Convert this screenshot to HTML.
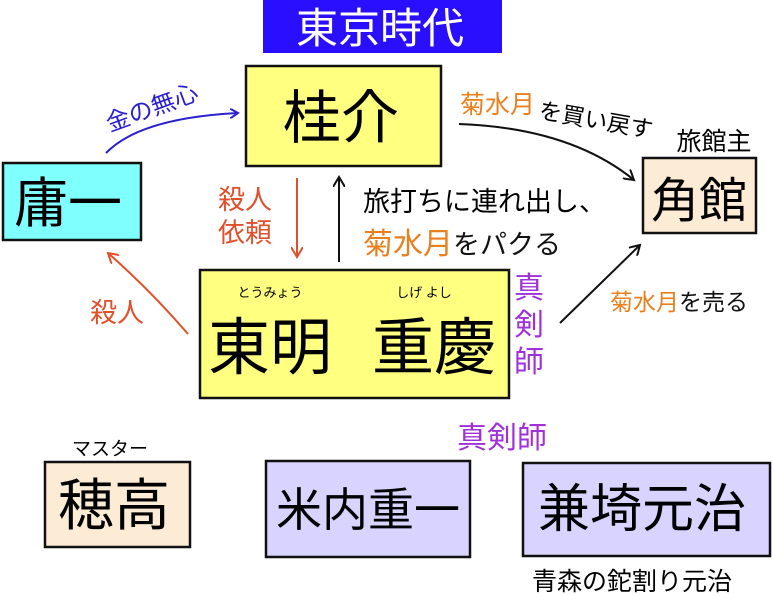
<!DOCTYPE html>
<html><head><meta charset="utf-8"><style>
html,body{margin:0;padding:0;background:#fff;}
svg{display:block;}
text{font-family:"Liberation Sans","Noto Sans CJK JP",sans-serif;}
</style></head><body>
<svg width="773" height="596" viewBox="0 0 773 596" xmlns="http://www.w3.org/2000/svg">
<defs>
<marker id="ab" markerWidth="10" markerHeight="10" refX="8" refY="5" orient="auto" markerUnits="userSpaceOnUse"><path d="M0,0 L8,5 L0,10" fill="none" stroke="#2a1fd0" stroke-width="2"/></marker>
<marker id="ak" markerWidth="12" markerHeight="12" refX="10" refY="6" orient="auto" markerUnits="userSpaceOnUse"><path d="M0,0 L10,6 L0,12" fill="none" stroke="#111" stroke-width="2"/></marker>
<marker id="ar" markerWidth="12" markerHeight="12" refX="10" refY="6" orient="auto" markerUnits="userSpaceOnUse"><path d="M0,0 L10,6 L0,12" fill="none" stroke="#e0502a" stroke-width="2"/></marker>
</defs>
<rect x="263" y="0" width="239" height="53" fill="#2a0fff"/>
<text x="380" y="43" font-size="42" fill="#fff" text-anchor="middle">東京時代</text>

<rect x="246" y="66" width="195" height="100" fill="#ffff80" stroke="#111" stroke-width="2.5"/>
<text x="341" y="138" font-size="58" text-anchor="middle">桂介</text>

<rect x="3" y="163" width="138" height="77" fill="#80ffff" stroke="#111" stroke-width="2.5"/>
<text x="68" y="222" font-size="54" text-anchor="middle">庸一</text>

<rect x="643" y="158" width="113" height="75" fill="#fcecd5" stroke="#111" stroke-width="2.5"/>
<text x="699" y="217" font-size="48" text-anchor="middle">角館</text>
<text x="714" y="150" font-size="25" text-anchor="middle">旅館主</text>

<rect x="200" y="270" width="309" height="128" fill="#ffff80" stroke="#111" stroke-width="2.5"/>
<text x="270" y="369" font-size="62" text-anchor="middle">東明</text>
<text x="434" y="369" font-size="62" text-anchor="middle">重慶</text>
<text x="270" y="297" font-size="13" text-anchor="middle">とうみょう</text>
<text x="424" y="297" font-size="13" text-anchor="middle">しげ よし</text>
<text x="529" y="298" font-size="30" fill="#a030d8" text-anchor="middle">真</text>
<text x="529" y="335" font-size="30" fill="#a030d8" text-anchor="middle">剣</text>
<text x="529" y="372" font-size="30" fill="#a030d8" text-anchor="middle">師</text>

<rect x="45" y="462" width="145" height="85" fill="#fcecd5" stroke="#111" stroke-width="2.5"/>
<text x="114" y="525" font-size="56" text-anchor="middle">穂高</text>
<text x="110" y="455" font-size="19" text-anchor="middle">マスター</text>

<rect x="266" y="461" width="204" height="96" fill="#d8d4ff" stroke="#111" stroke-width="2.5"/>
<text x="368" y="526" font-size="46" text-anchor="middle">米内重一</text>
<text x="502" y="448" font-size="30" fill="#a030d8" text-anchor="middle">真剣師</text>

<rect x="523" y="463" width="247" height="93" fill="#d8d4ff" stroke="#111" stroke-width="2.5"/>
<text x="642" y="527" font-size="52" text-anchor="middle">兼埼元治</text>
<text x="632" y="590" font-size="25" text-anchor="middle">青森の鉈割り元治</text>

<!-- 金の無心 -->
<path d="M106,153 Q140,118 238,113" fill="none" stroke="#2a1fd0" stroke-width="2" marker-end="url(#ab)"/>
<text x="152" y="116" font-size="24" fill="#2a1fd0" text-anchor="middle" transform="rotate(-20 152 108)">金の無心</text>

<!-- 菊水月を買い戻す -->
<path d="M459,124 Q570,128 634,180" fill="none" stroke="#111" stroke-width="2" marker-end="url(#ak)"/>
<text x="460" y="113" font-size="25" fill="#e8801e">菊水月</text>
<text x="538" y="118" font-size="23" transform="rotate(10 538 118)">を買い戻す</text>

<!-- 殺人依頼 -->
<line x1="297" y1="178" x2="297" y2="257" stroke="#e0502a" stroke-width="2" marker-end="url(#ar)"/>
<text x="245" y="209" font-size="27" fill="#e0502a" text-anchor="middle">殺人</text>
<text x="245" y="242" font-size="27" fill="#e0502a" text-anchor="middle">依頼</text>

<line x1="339" y1="262" x2="339" y2="177" stroke="#111" stroke-width="2" marker-end="url(#ak)"/>
<text x="363" y="211" font-size="27">旅打ちに連れ出し、</text>
<text x="363" y="254" font-size="30" fill="#e8801e">菊水月<tspan fill="#111" font-size="27">をパクる</tspan></text>

<!-- 殺人 -->
<path d="M188,334 Q150,290 108,253" fill="none" stroke="#e0502a" stroke-width="2" marker-end="url(#ar)"/>
<text x="117" y="322" font-size="27" fill="#e0502a" text-anchor="middle">殺人</text>

<!-- 菊水月を売る -->
<line x1="560" y1="323" x2="640" y2="245" stroke="#111" stroke-width="2" marker-end="url(#ak)"/>
<text x="610" y="310" font-size="23" fill="#e8801e">菊水月<tspan fill="#111">を売る</tspan></text>
</svg>
</body></html>
